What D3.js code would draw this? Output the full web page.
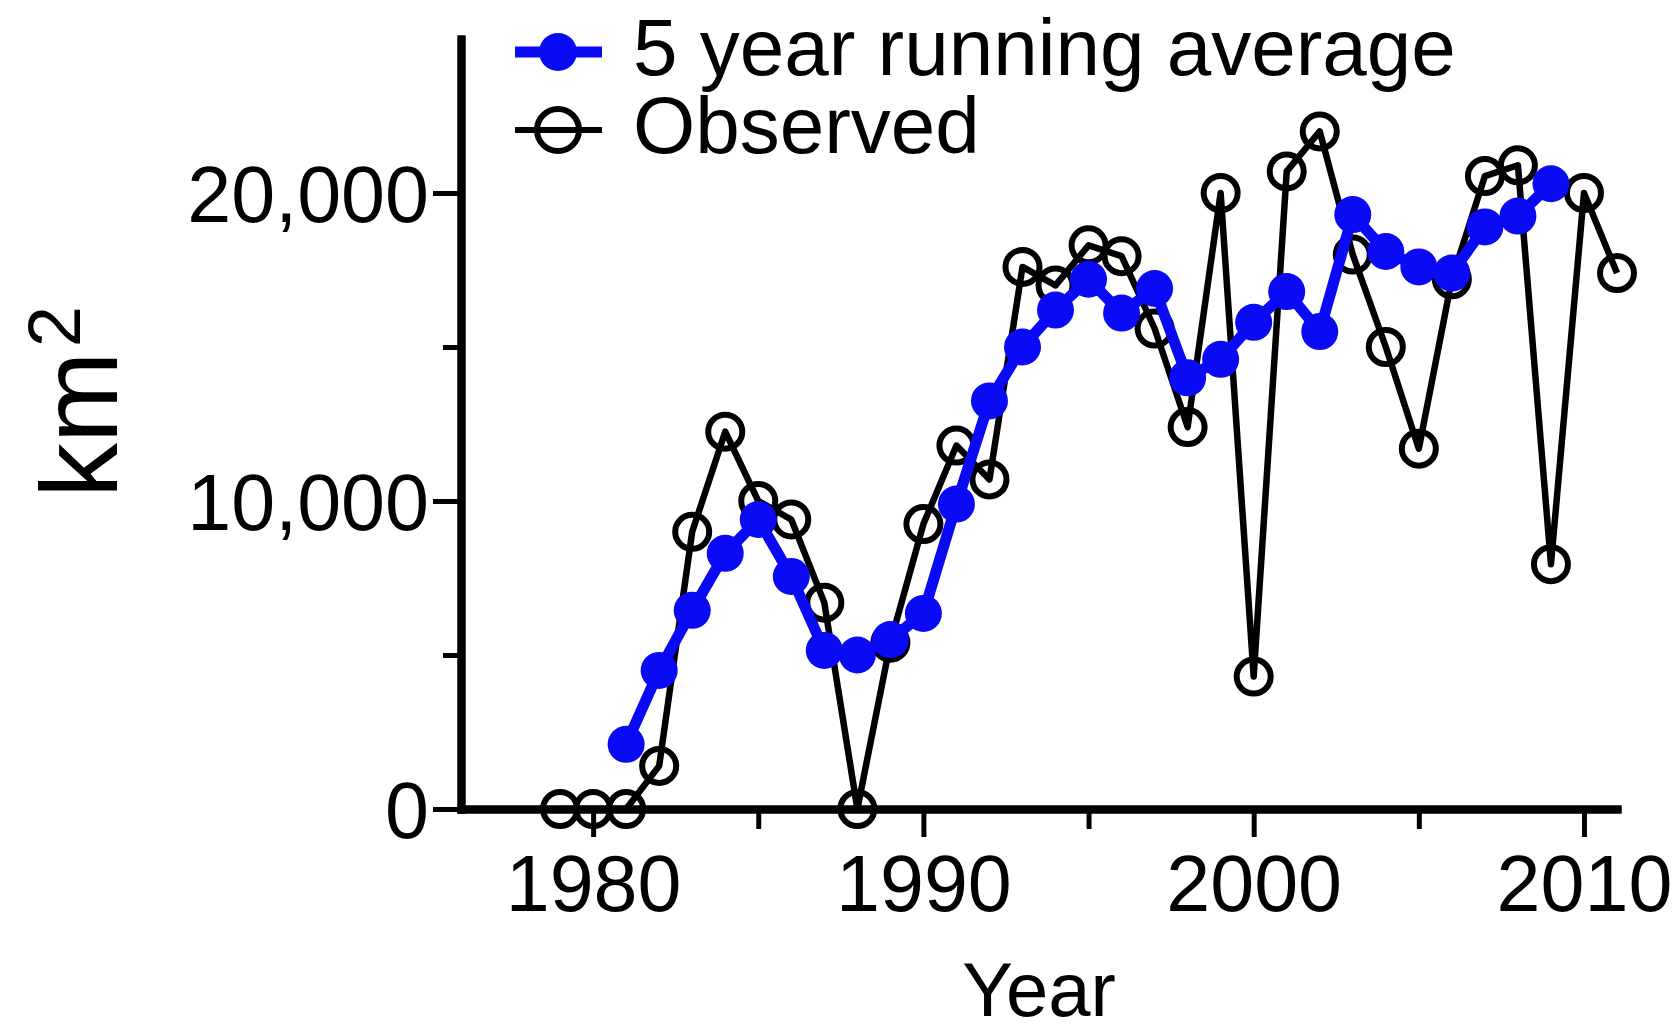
<!DOCTYPE html>
<html>
<head>
<meta charset="utf-8">
<script src="https://cdn.jsdelivr.net/npm/d3@7/dist/d3.min.js"></script>
<style>
  html, body { margin: 0; padding: 0; background: #ffffff; }
  svg { display: block; }
  text { font-family: "Liberation Sans", Arial, Helvetica, sans-serif; fill: #000; }
</style>
</head>
<body>
<svg id="chart" width="1680" height="1031"></svg>
<script>
// ---- data ----
const obsYears = [1979,1980,1981,1982,1983,1984,1985,1986,1987,1988,1989,1990,1991,1992,1993,1994,1995,1996,1997,1998,1999,2000,2001,2002,2003,2004,2005,2006,2007,2008,2009,2010,2011];
const observed = [0,0,0,1400,9000,12250,10000,9400,6700,0,5400,9250,11800,10700,17600,17000,18300,17950,15600,12400,20000,4300,20700,22000,18000,15000,11700,17200,20550,20900,7950,20000,17400];
const avgYears = [1981,1982,1983,1984,1985,1986,1987,1988,1989,1990,1991,1992,1993,1994,1995,1996,1997,1998,1999,2000,2001,2002,2003,2004,2005,2006,2007,2008,2009];
const runningAvg = [2100,4500,6450,8300,9400,7550,5150,5000,5500,6350,9900,13250,15000,16200,17200,16100,16900,14000,14600,15800,16800,15500,19300,18100,17600,17400,18900,19250,20300];
const xMajorTicks = [1980,1990,2000,2010];
const xMinorTicks = [1985,1995,2005];
const yMajorTicks = [0,10000,20000];
const yMinorTicks = [5000,15000];
const seriesNames = ["5 year running average","Observed"];

// ---- layout ----
const svg = d3.select("#chart");
const x = d3.scaleLinear().domain([1976, 2011]).range([461, 1617]);
const y = d3.scaleLinear().domain([0, 25000]).range([809, 39]);
const fmt = d3.format(",");
const blue = "#0a0af5";

// axes
const yMajor = svg.append("g").attr("transform", `translate(${x(1976)},0)`)
  .call(d3.axisLeft(y).tickValues(yMajorTicks).tickFormat(fmt).tickSizeInner(28).tickSizeOuter(0).tickPadding(4));
const yMinor = svg.append("g").attr("transform", `translate(${x(1976)},0)`)
  .call(d3.axisLeft(y).tickValues(yMinorTicks).tickFormat("").tickSizeInner(18).tickSizeOuter(0));
const xMajor = svg.append("g").attr("transform", `translate(0,${y(0)})`)
  .call(d3.axisBottom(x).tickValues(xMajorTicks).tickFormat(d3.format("d")).tickSizeInner(28).tickSizeOuter(0).tickPadding(18));
const xMinor = svg.append("g").attr("transform", `translate(0,${y(0)})`)
  .call(d3.axisBottom(x).tickValues(xMinorTicks).tickFormat("").tickSizeInner(20).tickSizeOuter(0));

[yMajor, yMinor, xMajor, xMinor].forEach(g => {
  g.select(".domain").attr("stroke", "#000").attr("stroke-width", 8).attr("stroke-linecap", "square");
  g.selectAll(".tick line").attr("stroke", "#000").attr("stroke-width", 5);
  g.selectAll(".tick text").attr("font-size", 79).attr("fill", "#000");
});
yMajor.selectAll(".tick text").attr("dy", "0.36em");

// axis titles
svg.append("text").attr("x", (x(1976) + x(2011)) / 2).attr("y", 1016)
  .attr("text-anchor", "middle").attr("font-size", 76).text("Year");
const yt = svg.append("text").attr("transform", "translate(117,498) rotate(-90)")
  .attr("text-anchor", "start").attr("font-size", 110);
yt.append("tspan").text("km");
yt.append("tspan").attr("font-size", 74).attr("dy", -37).attr("dx", 4).text("2");

// observed series
const plot = svg.append("g");
const obsData = obsYears.map((d, i) => ({ year: d, value: observed[i] }));
const avgData = avgYears.map((d, i) => ({ year: d, value: runningAvg[i] }));
const line = d3.line().x(d => x(d.year)).y(d => y(d.value));

plot.append("path").datum(obsData).attr("d", line)
  .attr("fill", "none").attr("stroke", "#000").attr("stroke-width", 6.5).attr("stroke-linejoin", "round");
plot.selectAll("circle.obs").data(obsData).join("circle").attr("class", "obs")
  .attr("cx", d => x(d.year)).attr("cy", d => y(d.value)).attr("r", 17)
  .attr("fill", "none").attr("stroke", "#000").attr("stroke-width", 6);

// running average series
plot.append("path").datum(avgData).attr("d", line)
  .attr("fill", "none").attr("stroke", blue).attr("stroke-width", 11).attr("stroke-linejoin", "round");
plot.selectAll("circle.avg").data(avgData).join("circle").attr("class", "avg")
  .attr("cx", d => x(d.year)).attr("cy", d => y(d.value)).attr("r", 18.5)
  .attr("fill", blue);

// legend
const leg = svg.append("g");
const l1 = leg.append("g").attr("transform", "translate(0,52)");
l1.append("line").attr("x1", 515).attr("x2", 602).attr("stroke", blue).attr("stroke-width", 11);
l1.append("circle").attr("cx", 558).attr("r", 19).attr("fill", blue);
leg.append("text").attr("x", 633).attr("y", 75).attr("font-size", 80).text(seriesNames[0]);

const l2 = leg.append("g").attr("transform", "translate(0,130)");
l2.append("line").attr("x1", 515).attr("x2", 602).attr("stroke", "#000").attr("stroke-width", 6);
l2.append("circle").attr("cx", 558).attr("r", 21).attr("fill", "none").attr("stroke", "#000").attr("stroke-width", 6);
leg.append("text").attr("x", 633).attr("y", 153).attr("font-size", 80).text(seriesNames[1]);
</script>
</body>
</html>
